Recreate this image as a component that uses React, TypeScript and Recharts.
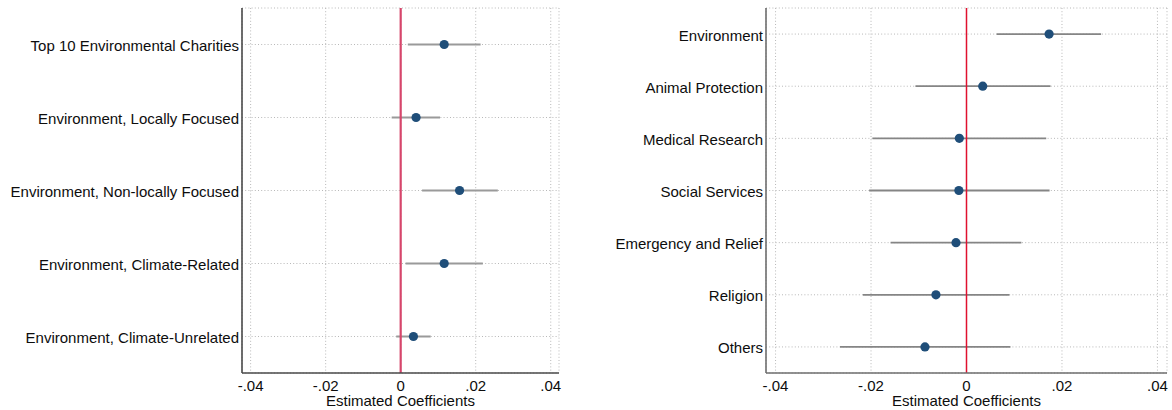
import React from "react";
import {
  ScatterChart,
  Scatter,
  XAxis,
  YAxis,
  CartesianGrid,
  ReferenceLine,
  ErrorBar,
} from "recharts";

const leftCategories = [
  "Top 10 Environmental Charities",
  "Environment, Locally Focused",
  "Environment, Non-locally Focused",
  "Environment, Climate-Related",
  "Environment, Climate-Unrelated",
];
const leftEstimates = [0.0116, 0.0041, 0.0157, 0.0116, 0.0034];
const leftLower = [0.0019, -0.0024, 0.0057, 0.0013, -0.0012];
const leftUpper = [0.0213, 0.0105, 0.0259, 0.0219, 0.008];

const rightCategories = [
  "Environment",
  "Animal Protection",
  "Medical Research",
  "Social Services",
  "Emergency and Relief",
  "Religion",
  "Others",
];
const rightEstimates = [0.0173, 0.0034, -0.0015, -0.0016, -0.0022, -0.0064, -0.0087];
const rightLower = [0.0063, -0.0107, -0.0197, -0.0204, -0.0159, -0.0217, -0.0265];
const rightUpper = [0.0282, 0.0176, 0.0167, 0.0174, 0.0115, 0.009, 0.0092];

const xTicks = [-0.04, -0.02, 0, 0.02, 0.04];
const xTickLabels = ["-.04", "-.02", "0", ".02", ".04"];
const xAxisTitle = "Estimated Coefficients";

const FONT = "'Liberation Sans', Arial, Helvetica, sans-serif";
const TEXT = "#0d0d0d";

function buildRows(est: number[], lo: number[], hi: number[]) {
  return est.map((e, i) => ({
    y: i + 1,
    x: e,
    err: [e - lo[i], hi[i] - e],
  }));
}

const Dot = (props: any) => {
  const { cx, cy } = props;
  if (cx == null || cy == null) return null;
  return <circle cx={cx} cy={cy} r={4.6} fill="#1f4e79" />;
};

type PanelProps = {
  categories: string[];
  est: number[];
  lo: number[];
  hi: number[];
  width: number;
  yAxisWidth: number;
  marginRight: number;
  domain: [number, number];
  refColor: string;
  refWidth: number;
  axisColor: string;
  ciColor: string;
  ciWidth: number;
};

function Panel(p: PanelProps) {
  const data = buildRows(p.est, p.lo, p.hi);
  const n = p.categories.length;
  const yTicks = p.categories.map((_, i) => i + 1);
  const YTick = (props: any) => {
    const { x, y, payload } = props;
    return (
      <text
        x={x}
        y={y + 1}
        textAnchor="end"
        dominantBaseline="central"
        fontFamily={FONT}
        fontSize={15}
        fill={TEXT}
      >
        {p.categories[payload.value - 1]}
      </text>
    );
  };
  return (
    <ScatterChart
      width={p.width}
      height={410}
      margin={{ top: 8, right: p.marginRight, bottom: 0, left: 0 }}
    >
      <CartesianGrid
        stroke="#b8b8b8"
        strokeDasharray="1 2.2"
        strokeWidth={1}
      />
      <XAxis
        type="number"
        dataKey="x"
        domain={p.domain}
        allowDataOverflow
        ticks={xTicks}
        tickFormatter={(v: number) => xTickLabels[xTicks.indexOf(v)] ?? String(v)}
        tickLine={false}
        tickSize={0}
        tickMargin={7}
        height={37}
        axisLine={{ stroke: p.axisColor, strokeWidth: 1.6 }}
        tick={{ fontFamily: FONT, fontSize: 15, fill: TEXT }}
        label={{
          value: xAxisTitle,
          position: "insideBottom",
          offset: 4,
          style: { fontFamily: FONT, fontSize: 15, fill: TEXT },
        }}
      />
      <YAxis
        type="number"
        dataKey="y"
        domain={[0.5, n + 0.5]}
        reversed
        allowDataOverflow
        ticks={yTicks}
        interval={0}
        tickLine={false}
        tickSize={0}
        tickMargin={3}
        width={p.yAxisWidth}
        axisLine={{ stroke: p.axisColor, strokeWidth: 1.6 }}
        tick={<YTick />}
      />
      <Scatter data={data} shape={<Dot />} isAnimationActive={false}>
        <ErrorBar
          dataKey="err"
          direction="x"
          width={0}
          stroke={p.ciColor}
          strokeWidth={p.ciWidth}
          isAnimationActive={false}
        />
      </Scatter>
      <ReferenceLine x={0} stroke={p.refColor} strokeWidth={p.refWidth} />
    </ScatterChart>
  );
}

export default function App() {
  return (
    <div
      style={{
        position: "absolute",
        left: 0,
        top: 0,
        width: 1172,
        height: 410,
        background: "#ffffff",
        display: "flex",
      }}
    >
      <Panel
        categories={leftCategories}
        est={leftEstimates}
        lo={leftLower}
        hi={leftUpper}
        width={600}
        yAxisWidth={242}
        marginRight={41}
        domain={[-0.0423, 0.0422]}
        refColor="#d6466b"
        refWidth={2.2}
        axisColor="#4a4a4a"
        ciColor="#9a9a9a"
        ciWidth={2}
      />
      <Panel
        categories={rightCategories}
        est={rightEstimates}
        lo={rightLower}
        hi={rightUpper}
        width={572}
        yAxisWidth={166}
        marginRight={5}
        domain={[-0.042, 0.042]}
        refColor="#e0102f"
        refWidth={1.5}
        axisColor="#6e6e6e"
        ciColor="#858585"
        ciWidth={1.8}
      />
    </div>
  );
}
